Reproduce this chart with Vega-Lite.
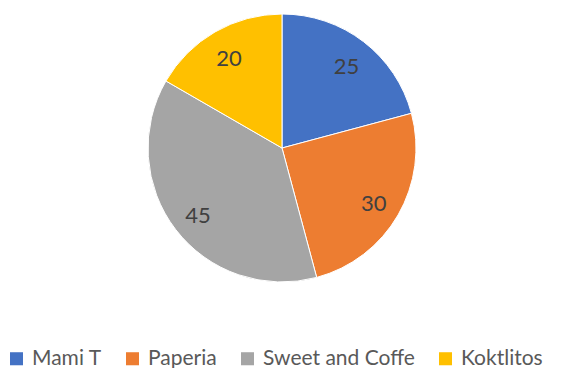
{
  "$schema": "https://vega.github.io/schema/vega-lite/v6.json",
  "width": 564,
  "height": 296,
  "autosize": {"type": "pad"},
  "padding": 0,
  "background": "white",
  "data": {"values": [
    {"name": "Mami T", "value": 25, "rank": 1},
    {"name": "Paperia", "value": 30, "rank": 2},
    {"name": "Sweet and Coffe", "value": 45, "rank": 3},
    {"name": "Koktlitos", "value": 20, "rank": 4}
  ]},
  "encoding": {
    "theta": {"field": "value", "type": "quantitative", "stack": true},
    "order": {"field": "rank", "type": "quantitative"}
  },
  "layer": [
    {
      "mark": {"type": "arc", "radius": 134, "stroke": "white", "strokeWidth": 1},
      "encoding": {
        "color": {
          "field": "name", "type": "nominal",
          "scale": {"domain": ["Mami T", "Paperia", "Sweet and Coffe", "Koktlitos"], "range": ["#4472C4", "#ED7D31", "#A5A5A5", "#FFC000"]},
          "legend": {
            "orient": "none", "legendX": 6, "legendY": 348, "direction": "horizontal", "columns": 4,
            "title": null, "symbolType": "square", "symbolSize": 170, "symbolStrokeWidth": 0,
            "labelFont": "Lato", "labelFontSize": 21, "labelColor": "#595959", "labelOffset": 5,
            "columnPadding": 20, "labelLimit": 300
          }
        }
      }
    },
    {
      "mark": {"type": "text", "radius": 106, "dy": 3, "font": "Lato", "fontSize": 22, "fill": "#404040"},
      "encoding": {"text": {"field": "value", "type": "quantitative"}}
    }
  ]
}
